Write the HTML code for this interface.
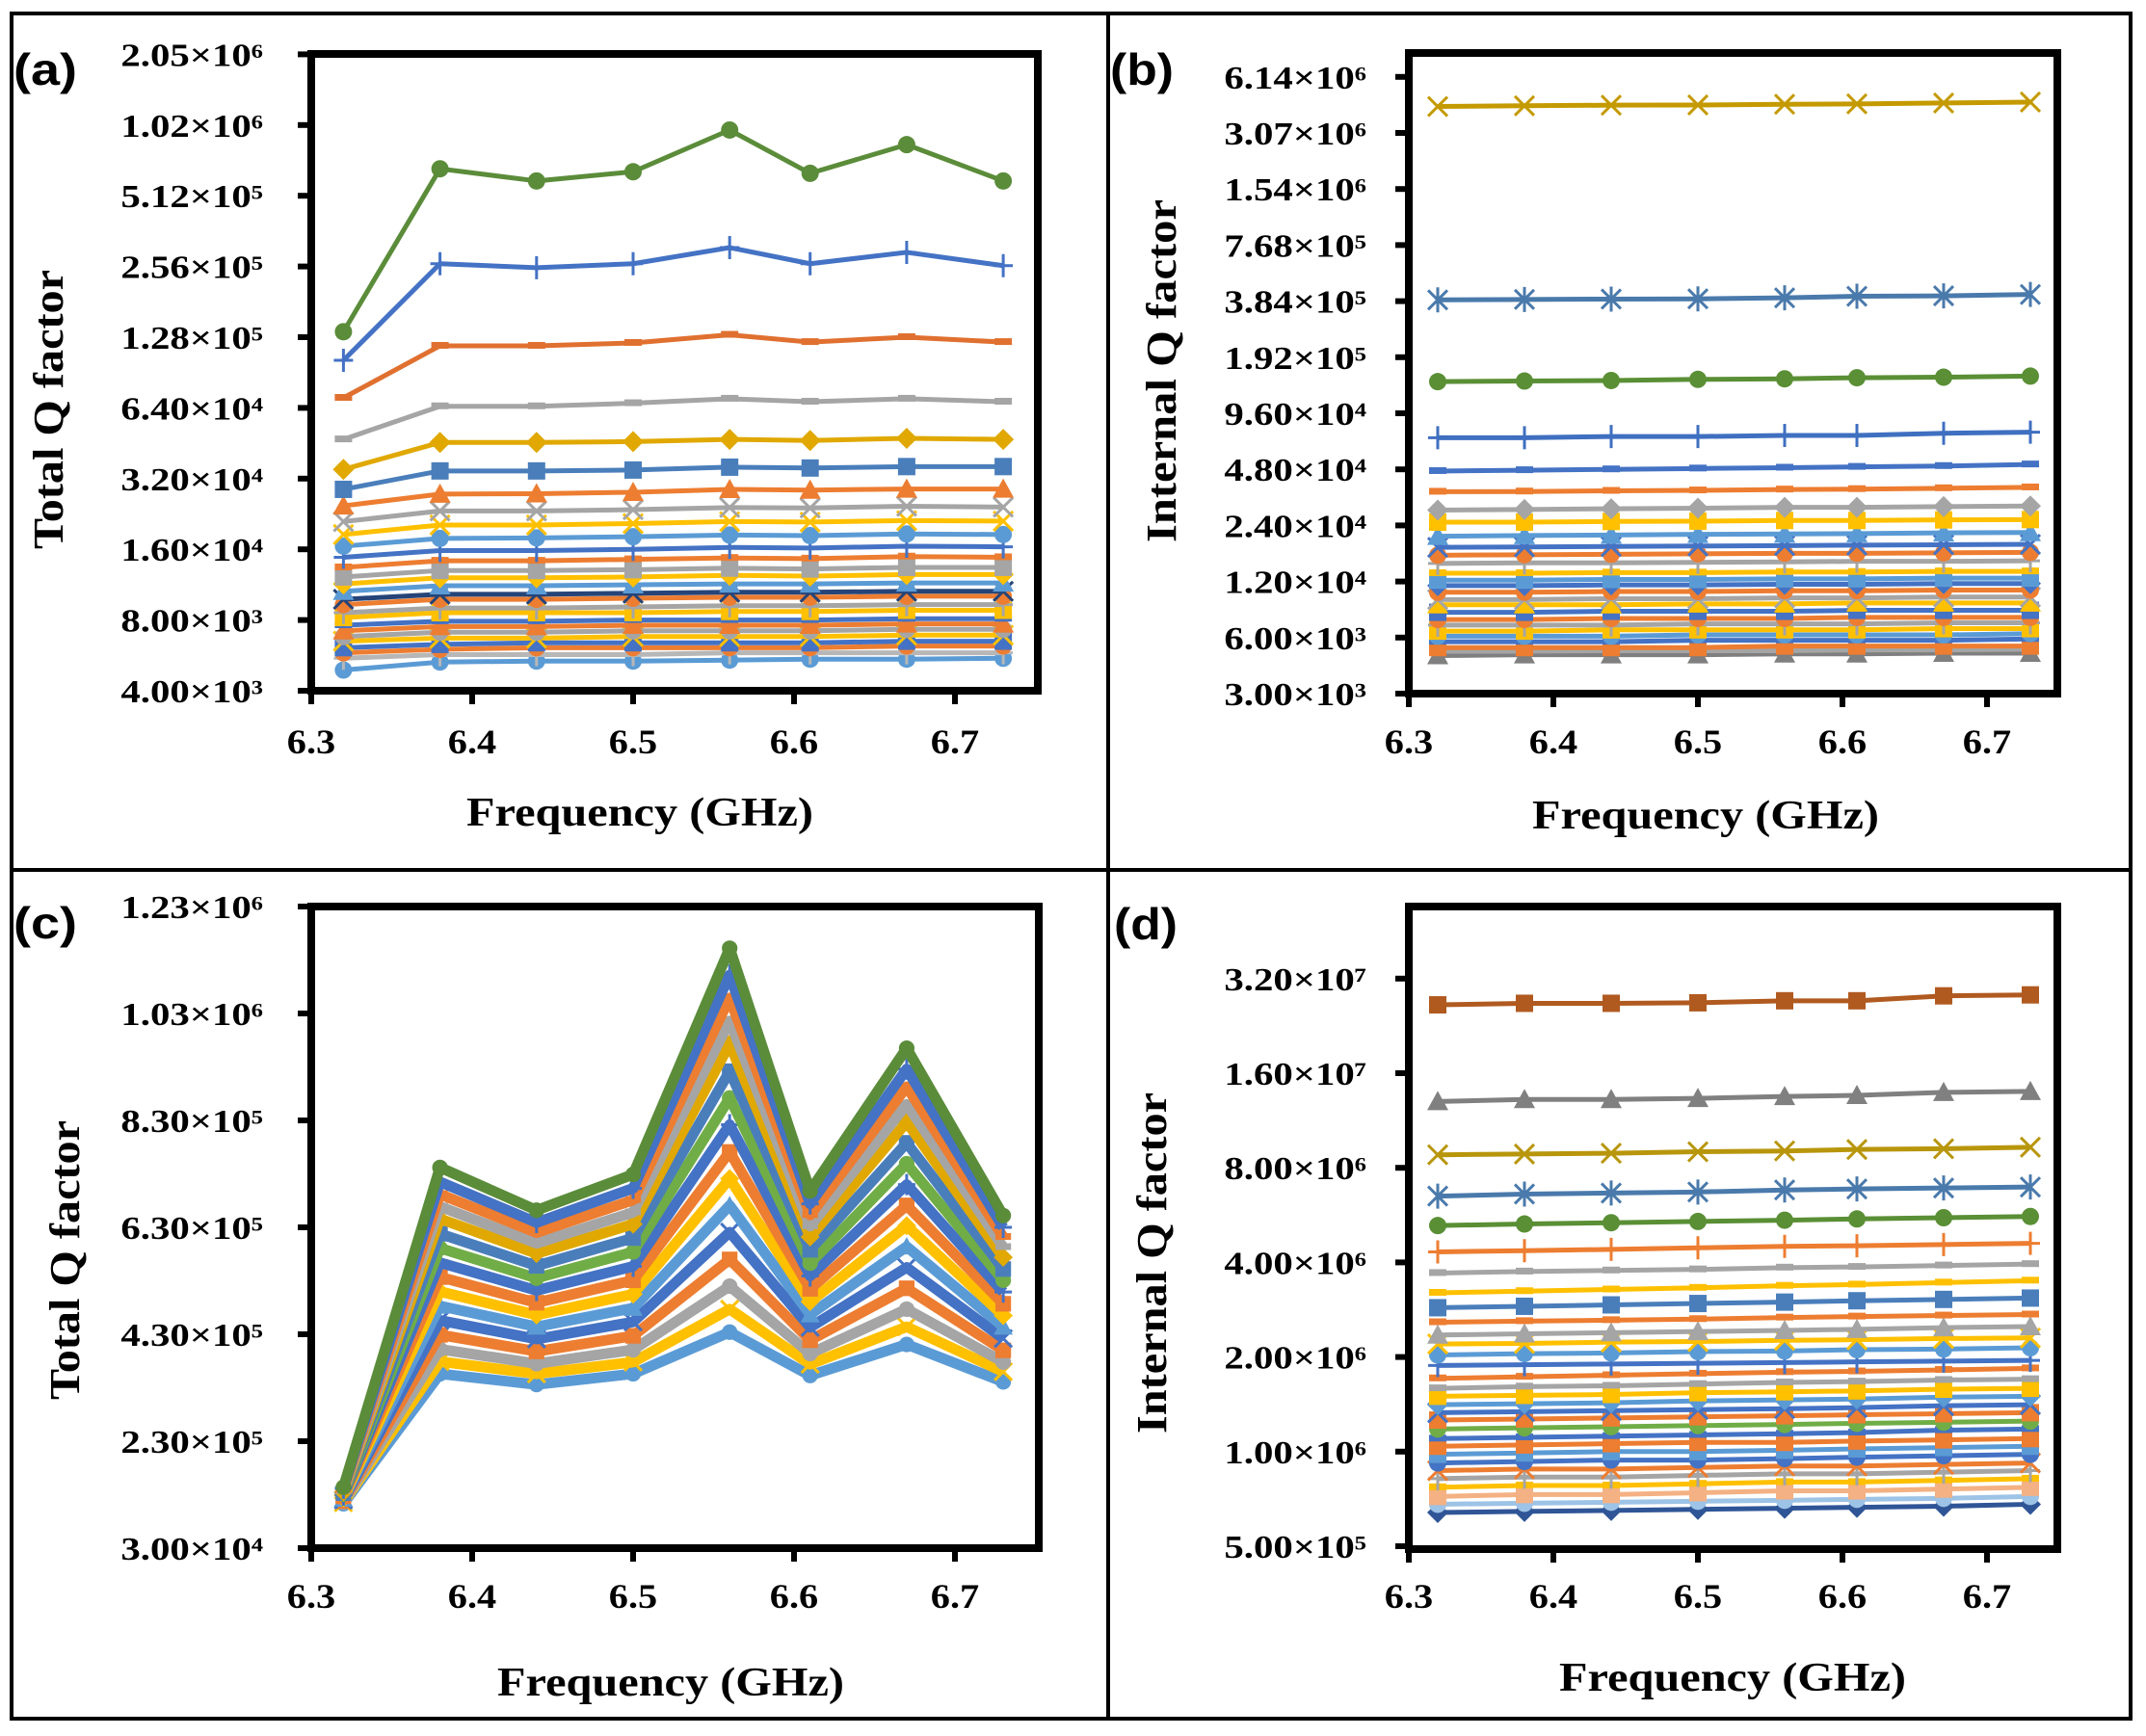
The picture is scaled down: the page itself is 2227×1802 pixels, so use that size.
<!DOCTYPE html>
<html><head><meta charset="utf-8"><title>Q factor panels</title>
<style>
html,body{margin:0;padding:0;background:#fff;}
svg{display:block;}
text{font-family:"Liberation Serif",serif;font-weight:bold;fill:#000;}
.lbl{font-family:"Liberation Sans",sans-serif;}
</style></head>
<body>
<svg id="fig" xmlns="http://www.w3.org/2000/svg" width="2227" height="1802" viewBox="0 0 2227 1802">
<rect x="0" y="0" width="2227" height="1802" fill="#fff"/>
<rect x="12" y="14" width="2199" height="1770" fill="none" stroke="#000" stroke-width="4"/>
<line x1="1150" y1="14" x2="1150" y2="1784" stroke="#000" stroke-width="4"/>
<line x1="12" y1="903" x2="2211" y2="903" stroke="#000" stroke-width="4"/>
</svg>
<script>
const freqs=[6.32,6.38,6.44,6.5,6.56,6.61,6.67,6.73];
const xTicks=[6.3,6.4,6.5,6.6,6.7];

const aSeries=[
[135000,667000,592000,648000,975000,638000,845000,592000],
[102000,263000,253000,263000,308000,263000,294000,258000],
[70600,117600,117600,121000,131000,122000,128000,122000],
[47000,65000,65000,67000,70000,68000,70000,68000],
[35000,45600,45600,46000,47000,46500,47500,47000],
[28800,34500,34500,34800,35800,35500,36000,36000],
[24500,27500,27600,28000,28800,28600,28900,28900],
[21000,23300,23300,23600,24100,24000,24400,24200],
[18500,20300,20300,20600,21000,20900,21200,21100],
[16500,17800,17900,18100,18400,18300,18600,18500],
[14800,15800,15800,16000,16300,16200,16500,16400],
[13400,14300,14300,14500,14700,14600,14900,14800],
[12200,13000,13000,13100,13300,13200,13400,13400],
[11400,12100,12100,12200,12400,12300,12500,12500],
[10600,11200,11200,11300,11400,11400,11500,11500],
[9800,10300,10300,10400,10500,10500,10600,10600],
[9300,9800,9800,9900,10000,10000,10100,10100],
[8600,9000,9000,9100,9200,9200,9300,9300],
[8200,8600,8600,8600,8700,8700,8800,8800],
[7600,7900,7900,8000,8000,8000,8100,8100],
[7200,7500,7500,7600,7600,7600,7700,7700],
[6800,7100,7100,7200,7200,7200,7300,7300],
[6500,6700,6700,6800,6800,6800,6900,6900],
[6100,6300,6400,6400,6400,6400,6500,6500],
[5800,6000,6100,6100,6100,6100,6200,6200],
[5500,5700,5700,5700,5800,5800,5800,5800],
[4900,5300,5350,5350,5400,5450,5450,5500]
];
const aColors=['#5B8C3A','#4472C4','#E07030','#A5A5A5','#E0A800','#4A7EBB','#ED7D31','#A5A5A5','#FFC000','#5B9BD5','#4472C4','#ED7D31','#A5A5A5','#FFC000','#5B9BD5','#264478','#ED7D31','#A5A5A5','#FFC000','#4472C4','#ED7D31','#A5A5A5','#FFC000','#4472C4','#ED7D31','#B7B7B7','#5B9BD5'];
const aMarkers=['circle','plus','dash','dash','diamond','square','tri','x','x','circle','plus','dash','square','diamond','tri','x','circle','plus','square','dash','tri','circle','x','square','circle','plus','circle'];
const aYTicks=[4000,8000,16000,32000,64000,128000,256000,512000,1024000,2048000];

const bSeries=[
[4260000,4300000,4330000,4340000,4380000,4400000,4450000,4500000],
[390000,392000,394000,395000,400000,408000,410000,417000],
[142000,143000,144000,146000,147000,149000,150000,152000],
[71000,71000,72000,72000,73000,73000,75000,76000],
[47000,47500,48000,48500,49000,49500,50000,51000],
[36400,36500,36800,37000,37400,37600,38000,38400],
[29000,29200,29500,29700,30000,30000,30300,30500],
[25000,25000,25200,25300,25500,25500,25700,25800],
[21000,21200,21300,21500,21600,21700,21900,22000],
[18300,18400,18500,18600,18700,18800,18900,19000],
[16600,16700,16800,16900,17000,17000,17100,17200],
[15000,15100,15100,15200,15300,15400,15400,15500],
[13300,13300,13400,13400,13500,13500,13600,13600],
[12200,12200,12300,12300,12400,12400,12500,12500],
[11400,11400,11500,11500,11600,11600,11700,11700],
[10500,10500,10600,10600,10700,10700,10800,10800],
[9600,9600,9700,9700,9800,9800,9900,9900],
[9000,9000,9000,9100,9100,9200,9200,9200],
[8200,8200,8300,8300,8300,8400,8400,8400],
[7500,7500,7600,7600,7600,7700,7700,7700],
[7000,7000,7000,7100,7100,7100,7200,7200],
[6500,6500,6600,6600,6600,6600,6700,6700],
[6100,6100,6100,6200,6200,6200,6200,6300],
[5700,5700,5700,5800,5800,5800,5800,5900],
[5300,5300,5300,5300,5400,5400,5400,5400],
[5070,5070,5100,5100,5100,5150,5150,5200],
[4800,4850,4850,4850,4900,4900,4950,4950]
];
const bColors=['#C49A00','#4A7AAB','#5A8F35','#3F6FC0','#4472C4','#ED7D31','#A5A5A5','#FFC000','#5B9BD5','#4472C4','#ED7D31','#A5A5A5','#FFC000','#5B9BD5','#4472C4','#ED7D31','#A5A5A5','#FFC000','#4472C4','#ED7D31','#A5A5A5','#FFC000','#5B9BD5','#4472C4','#ED7D31','#A5A5A5','#7F7F7F'];
const bMarkers=['x','star','circle','plus','dash','dash','diamond','square','tri','x','circle','plus','dash','square','diamond','circle','x','tri','square','circle','plus','square','circle','dash','square','dash','tri'];
const bYTicks=[3000,6000,12000,24000,48000,96000,192000,384000,768000,1536000,3072000,6144000];

const cSeries=[
[144000,742000,662000,729000,1152000,698000,965000,652000],
[142000,715000,639000,703000,1102000,674000,926000,630000],
[139000,692000,620000,681000,1059000,653000,893000,612000],
[137000,669000,600000,658000,1016000,632000,860000,593000],
[135000,646000,581000,636000,973000,612000,827000,574000],
[133000,618000,558000,610000,922000,588000,788000,552000],
[131000,591000,535000,584000,872000,563000,749000,531000],
[129000,564000,512000,557000,822000,539000,710000,509000],
[127000,537000,489000,531000,771000,515000,671000,487000],
[124000,510000,466000,505000,721000,491000,633000,465000],
[122000,483000,444000,479000,671000,467000,594000,444000],
[120000,456000,421000,453000,621000,443000,555000,422000],
[118000,429000,398000,427000,570000,419000,516000,400000],
[116000,402000,375000,401000,520000,394000,477000,378000],
[115000,379000,356000,378000,477000,374000,444000,360000],
[113000,356000,336000,356000,434000,353000,411000,341000]
];
const cColors=['#5B8C3A','#4472C4','#ED7D31','#A5A5A5','#E0A800','#4A7EBB','#70AD47','#4472C4','#ED7D31','#FFC000','#5B9BD5','#4472C4','#ED7D31','#A5A5A5','#FFC000','#5B9BD5'];
const cMarkers=['circle','plus','dash','dash','diamond','square','circle','plus','square','diamond','tri','x','square','circle','x','circle'];
const cYTicks=[30000,230000,430000,630000,830000,1030000,1230000];

const dSeries=[
[26400000,26700000,26700000,26800000,27200000,27200000,28200000,28400000],
[13000000,13200000,13200000,13300000,13500000,13600000,13900000,14000000],
[8800000,8850000,8900000,9000000,9050000,9150000,9200000,9300000],
[6500000,6600000,6650000,6700000,6800000,6850000,6900000,6950000],
[5240000,5300000,5350000,5400000,5450000,5500000,5550000,5600000],
[4320000,4360000,4400000,4450000,4500000,4520000,4560000,4600000],
[3700000,3740000,3770000,3800000,3850000,3870000,3910000,3950000],
[3200000,3240000,3280000,3320000,3370000,3400000,3450000,3500000],
[2870000,2900000,2930000,2960000,2990000,3020000,3050000,3080000],
[2580000,2600000,2620000,2640000,2670000,2690000,2710000,2730000],
[2350000,2370000,2390000,2410000,2430000,2450000,2480000,2500000],
[2200000,2210000,2230000,2240000,2260000,2270000,2290000,2300000],
[2030000,2050000,2060000,2080000,2090000,2110000,2120000,2140000],
[1880000,1890000,1900000,1910000,1920000,1930000,1940000,1950000],
[1710000,1730000,1750000,1770000,1790000,1800000,1820000,1840000],
[1590000,1610000,1620000,1640000,1660000,1670000,1690000,1700000],
[1500000,1510000,1520000,1540000,1550000,1560000,1580000,1590000],
[1410000,1420000,1430000,1450000,1460000,1470000,1490000,1500000],
[1330000,1340000,1350000,1360000,1370000,1380000,1400000,1410000],
[1260000,1270000,1280000,1290000,1300000,1310000,1320000,1330000],
[1180000,1190000,1200000,1210000,1220000,1230000,1240000,1250000],
[1100000,1110000,1120000,1130000,1140000,1150000,1170000,1180000],
[1040000,1050000,1060000,1070000,1070000,1080000,1090000,1100000],
[980000,990000,1000000,1000000,1010000,1020000,1030000,1040000],
[920000,930000,940000,940000,950000,960000,970000,980000],
[870000,880000,880000,890000,900000,900000,910000,920000],
[820000,830000,830000,840000,850000,850000,860000,870000],
[770000,780000,780000,790000,800000,800000,810000,820000],
[720000,730000,730000,740000,750000,750000,760000,770000],
[680000,685000,690000,695000,700000,705000,710000,720000],
[640000,645000,650000,655000,660000,665000,670000,680000]
];
const dColors=['#B05A20','#808080','#B8960C','#4A7AAB','#5A8F35','#ED7D31','#A5A5A5','#FFC000','#4A7EBB','#ED7D31','#A5A5A5','#FFC000','#5B9BD5','#4472C4','#ED7D31','#A5A5A5','#FFC000','#5B9BD5','#4472C4','#ED7D31','#70AD47','#4472C4','#ED7D31','#5B9BD5','#4472C4','#ED7D31','#A5A5A5','#FFC000','#F4B183','#9DC3E6','#2F5597'];
const dMarkers=['square','tri','x','star','circle','plus','dash','dash','square','dash','tri','x','circle','plus','dash','dash','square','diamond','x','square','circle','dash','square','square','circle','x','plus','dash','square','circle','diamond'];
const dYTicks=[500000,1000000,2000000,4000000,8000000,16000000,32000000];

const NS='http://www.w3.org/2000/svg';
const svg=document.getElementById('fig');
function mk(tag,parent){const e=document.createElementNS(NS,tag);parent.appendChild(e);return e;}

function logScale(vBase,yBase,perDouble){return v=>yBase-Math.log2(v/vBase)*perDouble;}
function linScale(v0,y0,v1,y1){return v=>y0+(v-v0)*(y1-y0)/(v1-v0);}
function xScale(x0,px01){return f=>x0+(f-6.3)*px01*10;}
const SUP={'0':'\u2070','1':'\u00b9','2':'\u00b2','3':'\u00b3','4':'\u2074','5':'\u2075','6':'\u2076','7':'\u2077','8':'\u2078','9':'\u2079'};
function fmt(v){const e=Math.floor(Math.log10(v)+1e-9);const m=v/Math.pow(10,e);return [m.toFixed(2),String(e)];}

function marker(g,type,x,y,color,s){
  let m;
  if(type==='circle'){m=mk('circle',g);m.setAttribute('cx',x);m.setAttribute('cy',y);m.setAttribute('r',9*s);m.setAttribute('fill',color);}
  else if(type==='square'){m=mk('rect',g);m.setAttribute('x',x-9*s);m.setAttribute('y',y-9*s);m.setAttribute('width',18*s);m.setAttribute('height',18*s);m.setAttribute('fill',color);}
  else if(type==='diamond'){m=mk('polygon',g);m.setAttribute('points',`${x},${y-11*s} ${x+11*s},${y} ${x},${y+11*s} ${x-11*s},${y}`);m.setAttribute('fill',color);}
  else if(type==='tri'){m=mk('polygon',g);m.setAttribute('points',`${x},${y-11*s} ${x+11*s},${y+9*s} ${x-11*s},${y+9*s}`);m.setAttribute('fill',color);}
  else if(type==='dash'){m=mk('rect',g);m.setAttribute('x',x-9*s);m.setAttribute('y',y-4);m.setAttribute('width',18*s);m.setAttribute('height',7);m.setAttribute('fill',color);}
  else{
    m=mk('path',g);let d='';const r=10*s;
    if(type==='x'||type==='star')d+=`M${x-r},${y-r}L${x+r},${y+r}M${x-r},${y+r}L${x+r},${y-r}`;
    if(type==='plus')d+=`M${x-r},${y}L${x+r},${y}M${x},${y-r-2}L${x},${y+r+2}`;
    if(type==='star')d+=`M${x},${y-r-3}L${x},${y+r+3}`;
    m.setAttribute('d',d);m.setAttribute('stroke',color);m.setAttribute('stroke-width',3);m.setAttribute('fill','none');
  }
  
  
}

function drawPanel(p){
  const g=mk('g',svg);
  
  
  const X=xScale(p.L,p.px01);
  const sg=mk('g',g);
  
  
  for(let i=p.series.length-1;i>=0;i--){
    const vals=p.series[i];const col=p.colors[i%p.colors.length];
    const line=mk('polyline',sg);
    line.setAttribute('points',vals.map((v,j)=>X(freqs[j])+','+p.Y(v)).join(' '));
    line.setAttribute('fill','none');line.setAttribute('stroke',col);line.setAttribute('stroke-width',p.sw);
    line.setAttribute('stroke-linejoin','round');
    
    
    vals.forEach((v,j)=>marker(sg,p.markers[i%p.markers.length],X(freqs[j]),p.Y(v),col,p.ms));
  }
  const fr=mk('rect',g);
  fr.setAttribute('x',p.L);fr.setAttribute('y',p.T);fr.setAttribute('width',p.R-p.L);fr.setAttribute('height',p.B-p.T);
  fr.setAttribute('fill','none');fr.setAttribute('stroke','#000');fr.setAttribute('stroke-width',8);
  
  
  p.yTicks.forEach(v=>{
    const y=p.Y(v);
    const t=mk('line',g);t.setAttribute('x1',p.L-14);t.setAttribute('x2',p.L);t.setAttribute('y1',y);t.setAttribute('y2',y);
    t.setAttribute('stroke','#000');t.setAttribute('stroke-width',6);
    
    
    const [m,e]=fmt(v);
    const tx=mk('text',g);
    tx.setAttribute('transform',`translate(${p.lblEnd},${y+12}) scale(1.2,1)`);
    tx.setAttribute('text-anchor','end');tx.setAttribute('font-size',34);
    tx.textContent=m+'\u00d710'+e.split('').map(c=>SUP[c]).join('');
    
    
  });
  xTicks.forEach(f=>{
    const x=X(f);
    const t=mk('line',g);t.setAttribute('x1',x);t.setAttribute('x2',x);t.setAttribute('y1',p.B);t.setAttribute('y2',p.B+14);
    t.setAttribute('stroke','#000');t.setAttribute('stroke-width',6);
    
    
    const tx=mk('text',g);
    tx.setAttribute('transform',`translate(${x},${p.xLblY}) scale(1.12,1)`);
    tx.setAttribute('text-anchor','middle');tx.setAttribute('font-size',36);
    tx.textContent=f.toFixed(1);
    
    
  });
  const xt=mk('text',g);
  xt.setAttribute('x',p.xtX);xt.setAttribute('y',p.xtY);xt.setAttribute('text-anchor','middle');xt.setAttribute('font-size',42);
  xt.setAttribute('textLength',360);xt.setAttribute('lengthAdjust','spacingAndGlyphs');
  xt.textContent='Frequency (GHz)';
  
  
  const yt=mk('text',g);
  yt.setAttribute('transform',`translate(${p.ytX+15},${p.ytY}) rotate(-90)`);
  yt.setAttribute('text-anchor','middle');yt.setAttribute('font-size',44);
  yt.setAttribute('textLength',p.ytLen);yt.setAttribute('lengthAdjust','spacingAndGlyphs');
  yt.textContent=p.ytText;
  
  
  const pl=mk('text',g);
  pl.setAttribute('x',p.plX);pl.setAttribute('y',p.plY);pl.setAttribute('font-size',46);pl.setAttribute('class','lbl');
  pl.setAttribute('textLength',66);pl.setAttribute('lengthAdjust','spacingAndGlyphs');
  pl.textContent='('+p.id+')';
  
  
}

drawPanel({id:'a',L:323,T:56,R:1077,B:717,px01:167,Y:logScale(4000,717,73.4),series:aSeries,colors:aColors,markers:aMarkers,yTicks:aYTicks,sw:5,ms:1,lblEnd:273,xLblY:782,xtX:664,xtY:857,ytX:50,ytY:425,ytLen:290,ytText:'Total Q factor',plX:14,plY:88});
drawPanel({id:'b',L:1462,T:55,R:2135,B:720,px01:150,Y:logScale(3000,720,58.2),series:bSeries,colors:bColors,markers:bMarkers,yTicks:bYTicks,sw:5,ms:1,lblEnd:1418,xLblY:782,xtX:1770,xtY:860,ytX:1205,ytY:385,ytLen:356,ytText:'Internal Q factor',plX:1152,plY:88});
drawPanel({id:'c',L:323,T:941,R:1078,B:1607,px01:167,Y:linScale(30000,1607,1230000,941),series:cSeries,colors:cColors,markers:cMarkers,yTicks:cYTicks,sw:11,ms:0.9,lblEnd:273,xLblY:1669,xtX:696,xtY:1760,ytX:67,ytY:1308,ytLen:290,ytText:'Total Q factor',plX:14,plY:974});
drawPanel({id:'d',L:1462,T:941,R:2135,B:1608,px01:150,Y:logScale(500000,1605,98.2),series:dSeries,colors:dColors,markers:dMarkers,yTicks:dYTicks,sw:5,ms:1,lblEnd:1418,xLblY:1669,xtX:1798,xtY:1755,ytX:1195,ytY:1311,ytLen:354,ytText:'Internal Q factor',plX:1156,plY:975});
</script>
</body></html>
